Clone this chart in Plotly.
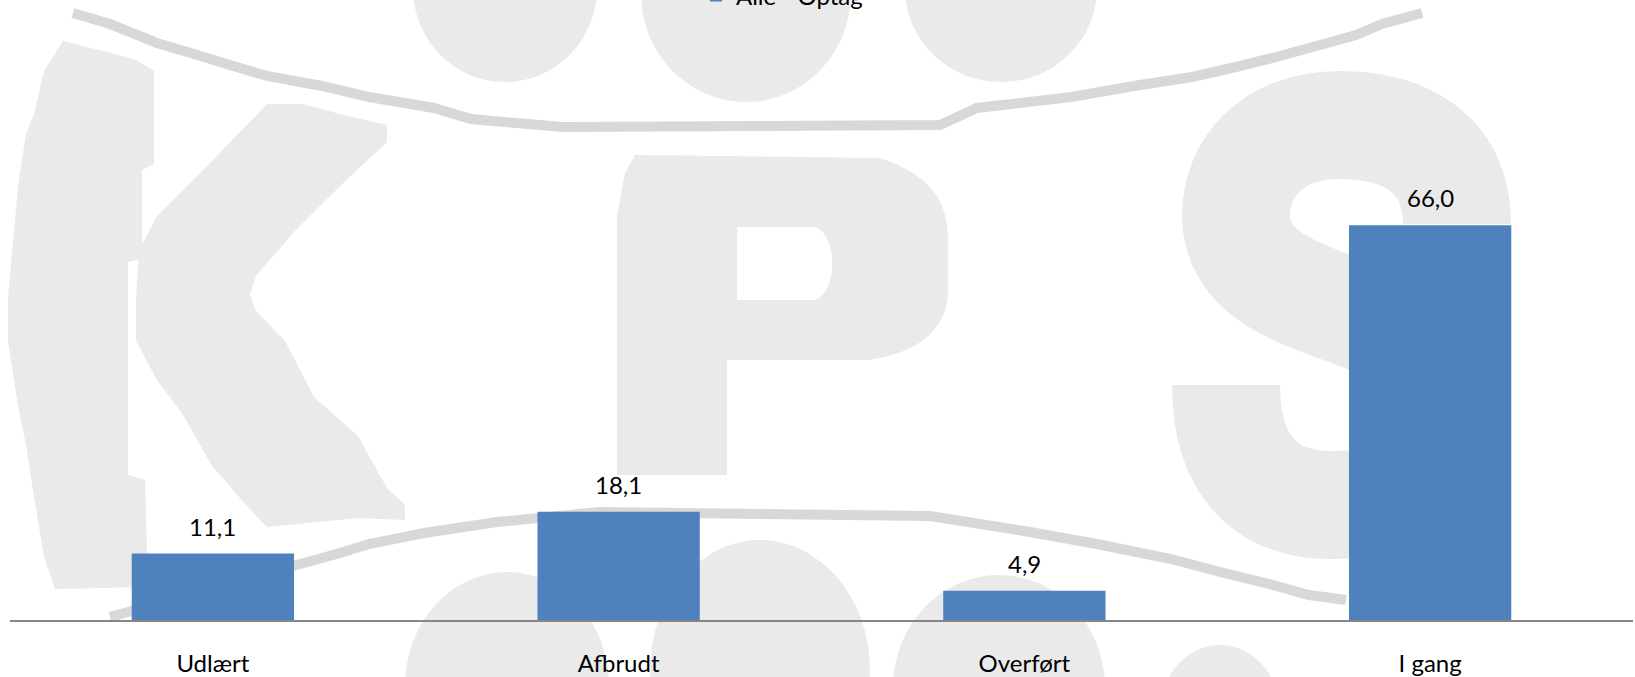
import plotly.graph_objects as go

# ---- data ----
categories = ["Udlært", "Afbrudt", "Overført", "I gang"]
values = [11.1, 18.1, 4.9, 66.0]
series_name = "Alle - Optag"
value_labels = [f"{v:.1f}".replace(".", ",") for v in values]

# ---- geometry helpers for the background watermark (pixel -> paper) ----
W, H = 1635, 677
PL, PR, PT, PB = 10, 1633, 22, 620


def px(x):
    return (x - PL) / (PR - PL)


def py(y):
    return (PB - y) / (PB - PT)


def poly(points):
    return "M " + " L ".join(f"{px(x):.5f},{py(y):.5f}" for x, y in points) + " Z"


def polyline(points):
    return "M " + " L ".join(f"{px(x):.5f},{py(y):.5f}" for x, y in points)


def curve(cmds):
    out = []
    for c in cmds:
        op = c[0]
        pts = c[1:]
        out.append(op + " " + " ".join(f"{px(x):.5f},{py(y):.5f}" for x, y in pts))
    return " ".join(out)


WM = "#eaeaea"
WM_DARK = "#d8d8d8"
shapes = []

# K
k_bar = [(63, 41), (107, 52), (136, 60), (154, 71), (154, 164), (142, 170), (142, 259), (128, 262),
         (128, 475), (145, 480), (148, 587), (55, 589), (44, 557), (34, 497), (26, 445), (18, 406),
         (8, 341), (8, 298), (18, 186), (26, 134), (34, 114), (44, 71)]
k_arm = [(267, 104), (303, 104), (340, 114), (387, 125), (387, 142), (340, 186), (293, 233),
         (256, 276), (248, 300), (136, 300), (139, 250), (157, 216), (209, 164)]
k_leg = [(248, 290), (256, 311), (285, 341), (314, 397), (358, 436), (387, 488), (405, 505),
         (405, 520), (358, 518), (267, 527), (246, 505), (212, 466), (183, 415), (157, 380),
         (136, 341), (136, 300)]
for p in (k_bar, k_arm, k_leg):
    shapes.append(dict(type="path", xref="paper", yref="paper", path=poly(p),
                       fillcolor=WM, line=dict(width=0), layer="below"))

# P
p_outer = curve([
    ("M", (635, 155)), ("L", (880, 158)), ("C", (930, 175), (948, 200), (948, 240)),
    ("L", (948, 295)), ("C", (945, 335), (910, 355), (867, 360)), ("L", (727, 360)),
    ("L", (727, 475)), ("L", (617, 475)), ("L", (617, 216)), ("L", (625, 173)), ("Z",),
])
p_hole = curve([
    ("M", (737, 227)), ("L", (815, 227)), ("C", (838, 235), (838, 292), (815, 300)),
    ("L", (737, 300)), ("Z",),
])
shapes.append(dict(type="path", xref="paper", yref="paper", path=p_outer + " " + p_hole,
                   fillcolor=WM, fillrule="evenodd", line=dict(width=0), layer="below"))

# S (stroked)
s_path = curve([
    ("M", (1457, 224)),
    ("C", (1457, 150), (1400, 125), (1340, 125)),
    ("C", (1270, 125), (1236, 170), (1236, 215)),
    ("C", (1236, 270), (1290, 290), (1330, 305)),
    ("C", (1420, 335), (1455, 370), (1455, 430)),
    ("C", (1455, 480), (1400, 505), (1330, 505)),
    ("C", (1270, 505), (1226, 470), (1226, 385)),
])
shapes.append(dict(type="path", xref="paper", yref="paper", path=s_path,
                   fillcolor="rgba(0,0,0,0)", line=dict(color=WM, width=108), layer="below"))

# round blobs (top & bottom)
for (x0, y0, x1, y1) in [(413, -105, 597, 82), (641, -115, 851, 102), (905, -105, 1097, 82),
                         (405, 572, 609, 800), (650, 540, 870, 800), (893, 575, 1105, 800),
                         (1160, 645, 1280, 780)]:
    shapes.append(dict(type="circle", xref="paper", yref="paper",
                       x0=px(x0), x1=px(x1), y0=py(y1), y1=py(y0),
                       fillcolor=WM, line=dict(width=0), layer="below"))

# thin darker arcs
top_arc = [(73, 13), (110, 24), (157, 43), (194, 54), (230, 65), (267, 76), (322, 86), (369, 97),
           (434, 108), (471, 119), (562, 127), (940, 125), (977, 108), (1071, 97), (1134, 86),
           (1192, 77), (1236, 67), (1280, 56), (1320, 45), (1356, 35), (1382, 24), (1422, 13)]
bot_arc = [(110, 617), (200, 592), (293, 566), (340, 553), (369, 544), (424, 533), (497, 522),
           (599, 512), (930, 516), (1024, 531), (1097, 544), (1171, 559), (1228, 574),
           (1273, 585), (1309, 595), (1346, 600)]
for arc in (top_arc, bot_arc):
    shapes.append(dict(type="path", xref="paper", yref="paper", path=polyline(arc),
                       fillcolor="rgba(0,0,0,0)", line=dict(color=WM_DARK, width=10),
                       layer="below"))

FONT = "Lato, Open Sans, sans-serif"
FS = 24

fig = go.Figure()
fig.add_trace(go.Bar(
    x=categories, y=values, name=series_name, width=0.4,
    marker=dict(color="#4F81BD", line=dict(width=0)),
    hoverinfo="skip", showlegend=True,
))

annotations = [
    dict(x=c, y=v, text=t, showarrow=False, xref="x", yref="y", yanchor="bottom",
         yshift=11, font=dict(family=FONT, size=FS, color="#000000"))
    for c, v, t in zip(categories, values, value_labels)
]

fig.update_layout(
    width=W, height=H,
    margin=dict(l=PL, r=W - PR, t=PT, b=H - PB, autoexpand=False),
    paper_bgcolor="white", plot_bgcolor="rgba(0,0,0,0)",
    font=dict(family=FONT, size=FS, color="#000000"),
    showlegend=True,
    legend=dict(orientation="h", x=px(782), xanchor="center", y=py(-4), yanchor="middle",
                font=dict(family=FONT, size=FS, color="#000000"), bgcolor="rgba(0,0,0,0)"),
    shapes=shapes,
    annotations=annotations,
    xaxis=dict(showline=True, linecolor="#868686", linewidth=1.5, showgrid=False,
               zeroline=False, ticks="", ticklabelstandoff=21,
               tickfont=dict(family=FONT, size=FS, color="#000000"), fixedrange=True),
    yaxis=dict(range=[0, 100], visible=False, showgrid=False, zeroline=False, fixedrange=True),
)

fig.write_html("out.html", config={"displayModeBar": False},
               post_script="document.body.style.margin='0';document.body.style.overflow='hidden';")
